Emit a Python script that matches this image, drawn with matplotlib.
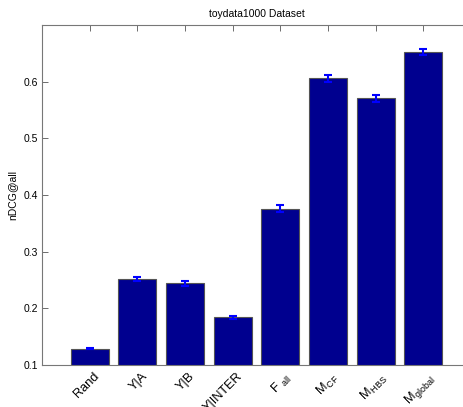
import numpy as np
import matplotlib
matplotlib.use('Agg')
import matplotlib.pyplot as plt

plt.rcParams['font.family'] = ['Liberation Sans', 'DejaVu Sans']
plt.rcParams['mathtext.fontset'] = 'custom'
plt.rcParams['mathtext.rm'] = 'Liberation Sans'
plt.rcParams['mathtext.it'] = 'Liberation Sans'
plt.rcParams['mathtext.default'] = 'regular'

# Données
methods = ['Rand', 'Y|A', 'Y|B', 'Y|INTER', r'F$\ _{all}$',
           r'M$_{\,CF}$', r'M$_{\,HBS}$', r'M$_{\,global}$']
ndcg = [0.129, 0.252, 0.244, 0.184, 0.376, 0.606, 0.571, 0.652]
errors = [0.0015, 0.004, 0.005, 0.003, 0.006, 0.006, 0.006, 0.005]

fig = plt.figure(figsize=(4.64, 4.07), dpi=100)
ax = fig.add_axes([42 / 464, 42 / 407, 429 / 464, 340 / 407])

x = np.arange(1, len(methods) + 1)
ax.bar(x, ndcg, width=0.8, color='#00008f', edgecolor='#555555',
       linewidth=0.8, zorder=2)
ax.errorbar(x, ndcg, yerr=errors, fmt='none', ecolor='blue',
            elinewidth=1.5, capsize=2.6, capthick=1.5, zorder=3)

ax.set_xlim(0, 9)
ax.set_ylim(0.1, 0.7)
ax.set_yticks([0.1, 0.2, 0.3, 0.4, 0.5, 0.6])
ax.set_yticklabels(['0.1', '0.2', '0.3', '0.4', '0.5', '0.6'])
ax.set_xticks(x)
ax.set_xticklabels([])

ax.tick_params(direction='in', length=4, width=0.6, color='#555555',
               top=True, right=True, labelsize=7.5, pad=3)
for sp in ax.spines.values():
    sp.set_color('#777777')
    sp.set_linewidth(0.8)

# étiquettes inclinées à 45°
for xi, lab in zip(x, methods):
    ax.text(xi + 0.08, 0.0905, lab, rotation=45, ha='right', va='top',
            rotation_mode='anchor', fontsize=9.2, transform=ax.transData,
            clip_on=False)

ax.set_ylabel('nDCG@all', fontsize=7.5, labelpad=4)
ax.set_title('toydata1000 Dataset', fontsize=7.5, pad=6)

plt.savefig('out.png', dpi=100)
